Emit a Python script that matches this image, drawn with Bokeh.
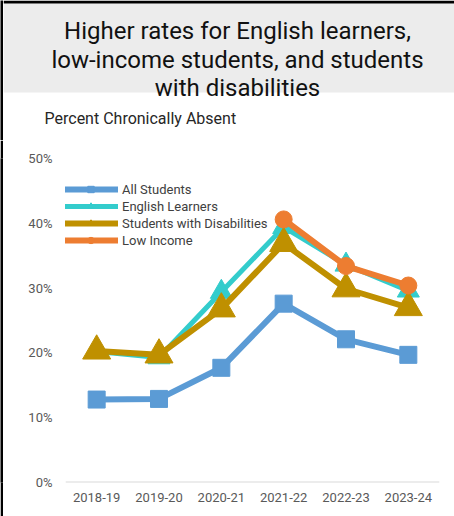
from bokeh.plotting import figure
from bokeh.layouts import column, row
from bokeh.models import (Range1d, FactorRange, Span, Legend, LegendItem, BoxAnnotation,
                          FixedTicker, PrintfTickFormatter, ColumnDataSource)
from bokeh.core.properties import value
from bokeh.embed import file_html
from bokeh.resources import INLINE

nan = float("nan")

# ---- data ----
years = ["2018-19", "2019-20", "2020-21", "2021-22", "2022-23", "2023-24"]
all_students = [12.8, 12.9, 17.7, 27.6, 22.1, 19.7]
english_learners = [20.2, 19.3, 29.4, 39.4, 33.6, 29.6]
students_disabilities = [20.3, 19.7, 26.8, 36.9, 29.9, 27.0]
low_income = [nan, nan, nan, 40.6, 33.4, 30.4]
y_ticks = [0, 10, 20, 30, 40, 50]

title_lines = ["Higher rates for English learners,",
               "low-income students, and students",
               "with disabilities"]
subtitle = "Percent Chronically Absent"

FONT = "Roboto"
BW = 3            # black frame on left / top
W = 454 - BW
HT = 140          # header height


def blank(fig, color):
    fig.grid.visible = False
    fig.outline_line_color = None
    fig.background_fill_color = color
    fig.border_fill_color = color


def strip(h):
    s = figure(width=BW, height=h, x_axis_type=None, y_axis_type=None,
               output_backend="svg", toolbar_location=None,
               min_border_left=0, min_border_right=0, min_border_top=0, min_border_bottom=0)
    blank(s, "black")
    return s


# ---- header: grey title band + subtitle ----
tp = figure(width=W, height=HT, x_range=Range1d(BW, 454), y_range=Range1d(HT, 0),
            x_axis_type=None, y_axis_type=None, output_backend="svg", toolbar_location=None,
            min_border_left=0, min_border_right=0, min_border_top=0, min_border_bottom=0)
blank(tp, "white")
tp.add_layout(BoxAnnotation(top=BW, bottom=92, fill_color="#ececec", fill_alpha=1,
                            line_color=None, level="underlay"))
tp.add_layout(BoxAnnotation(top=0, bottom=BW, fill_color="black", fill_alpha=1,
                            line_color=None, level="annotation"))
tsrc = ColumnDataSource(dict(x=[237, 237, 237], y=[30, 59.3, 87.3], t=title_lines))
tp.text(x="x", y="y", text="t", source=tsrc, text_align="center",
        text_baseline="alphabetic", text_font=value(FONT), text_font_size="24px",
        text_color="#111111")
tp.text(x=[44], y=[118], text=[subtitle], text_align="left", text_baseline="alphabetic",
        text_font=value(FONT), text_font_size="16px", text_color="#262626")

# ---- main chart ----
p = figure(width=W, height=516 - HT, x_range=FactorRange(*years), y_range=Range1d(0, 50),
           output_backend="svg", toolbar_location=None,
           min_border_left=65 - BW, min_border_right=15, min_border_top=18, min_border_bottom=34)
blank(p, "white")

p.add_layout(Span(location=0, dimension="width", line_color="#d9d9d9", line_width=2))

src = ColumnDataSource(dict(x=years, a=all_students, e=english_learners,
                            d=students_disabilities, l=low_income))

blue, teal, gold, orange = "#5b9bd5", "#33cccc", "#bf9000", "#ed7d31"

r1l = p.line("x", "a", source=src, line_color=blue, line_width=6)
r1m = p.scatter("x", "a", source=src, marker="square", size=17, fill_color=blue, line_color=blue)
r2l = p.line("x", "e", source=src, line_color=teal, line_width=5)
r2m = p.scatter("x", "e", source=src, marker="triangle", size=22, fill_color=teal, line_color=teal)
r3l = p.line("x", "d", source=src, line_color=gold, line_width=6)
r3m = p.scatter("x", "d", source=src, marker="triangle", size=28, fill_color=gold, line_color=gold)
r4l = p.line("x", "l", source=src, line_color=orange, line_width=6)
r4m = p.scatter("x", "l", source=src, marker="circle", size=17, fill_color=orange, line_color=orange)

# axes
p.yaxis.ticker = FixedTicker(ticks=y_ticks)
p.yaxis.formatter = PrintfTickFormatter(format="%d%%")
for ax in (p.xaxis[0], p.yaxis[0]):
    ax.axis_line_color = None
    ax.major_tick_line_color = None
    ax.minor_tick_line_color = None
    ax.major_tick_out = 0
    ax.major_tick_in = 0
    ax.major_label_text_font = FONT
    ax.major_label_text_font_size = "13px"
    ax.major_label_text_color = "#595959"
p.yaxis.major_label_standoff = 13
p.xaxis.major_label_standoff = 10

legend = Legend(items=[
    LegendItem(label="All Students", renderers=[r1l, r1m]),
    LegendItem(label="English Learners", renderers=[r2l, r2m]),
    LegendItem(label="Students with Disabilities", renderers=[r3l, r3m]),
    LegendItem(label="Low Income", renderers=[r4l, r4m]),
], location=(-2, 234))
legend.margin = 0
legend.padding = 0
legend.spacing = 1
legend.border_line_color = None
legend.background_fill_alpha = 0
legend.glyph_width = 55
legend.glyph_height = 16
legend.label_height = 16
legend.label_standoff = 4
legend.label_text_font = FONT
legend.label_text_font_size = "13px"
legend.label_text_color = "#404040"
p.add_layout(legend)

layout = column(row(strip(HT), tp, spacing=0), row(strip(516 - HT), p, spacing=0), spacing=0)
open("out.html", "w").write(file_html(layout, INLINE))
